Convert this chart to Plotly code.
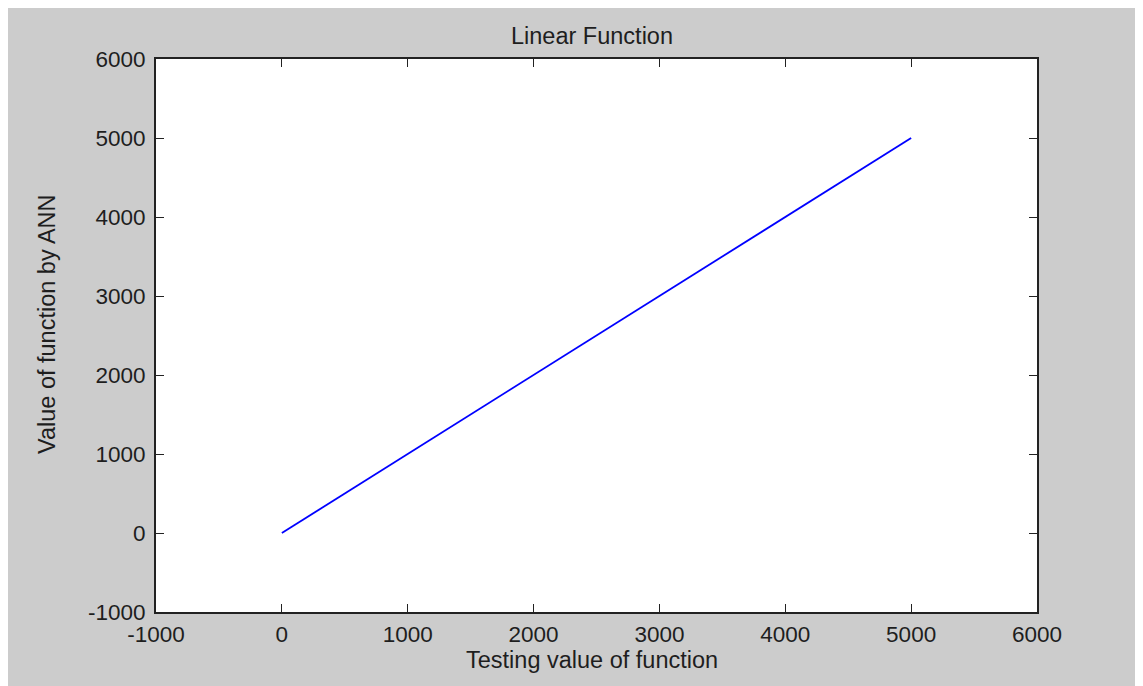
import plotly.graph_objects as go

# Data
testing_values = [0, 1000, 2000, 3000, 4000, 5000]
ann_values = [0, 1000, 2000, 3000, 4000, 5000]
tick_vals = [-1000, 0, 1000, 2000, 3000, 4000, 5000, 6000]
tick_text = ["-1000", "0", "1000", "2000", "3000", "4000", "5000", "6000"]

OFF = 8  # default page body margin
W, H = 1143 - OFF, 686 - OFF
L, R, T, B = 156 - OFF, 1037 - OFF, 59 - OFF, 612 - OFF
pw, ph = R - L, B - T


def px(p):
    return (p - OFF - L) / pw


def py(p):
    return (B - (p - OFF)) / ph


fig = go.Figure()
fig.add_trace(go.Scatter(x=testing_values, y=ann_values, mode="lines",
                         line=dict(color="#0000ff", width=1.8), showlegend=False))

font = dict(family="Liberation Sans, Arial, sans-serif", size=23.5, color="#1e1e1e")
tfont = dict(family="Liberation Sans, Arial, sans-serif", size=22.5, color="#1e1e1e")
axis_common = dict(range=[-1000, 6000], tickvals=tick_vals, ticktext=tick_text,
                   ticks="inside", ticklen=8, tickwidth=1.3, tickcolor="#222",
                   showline=True, linecolor="#222", linewidth=2, mirror="ticks",
                   showgrid=False, zeroline=False, tickfont=tfont)

fig.update_layout(
    width=W, height=H,
    margin=dict(l=L, r=W - R, t=T, b=H - B),
    paper_bgcolor="#cccccc", plot_bgcolor="white",
    xaxis=dict(**axis_common, ticklabelstandoff=1),
    yaxis=dict(**axis_common, ticklabelstandoff=4),
    annotations=[
        dict(text="Linear Function", xref="paper", yref="paper", x=px(591.5), y=py(36),
             xanchor="center", yanchor="middle", showarrow=False, font=font),
        dict(text="Testing value of function", xref="paper", yref="paper", x=px(592), y=py(660),
             xanchor="center", yanchor="middle", showarrow=False, font=font),
        dict(text="Value of function by ANN", xref="paper", yref="paper", x=px(47), y=py(324),
             xanchor="center", yanchor="middle", showarrow=False, font=font, textangle=-90),
    ],
)

fig.write_html("out.html")
